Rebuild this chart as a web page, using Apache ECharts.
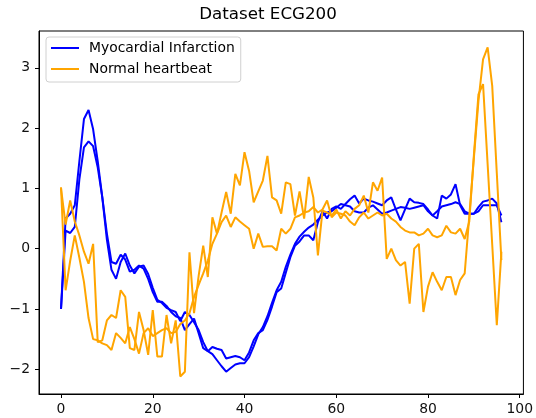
<!DOCTYPE html>
<html>
<head>
<meta charset="utf-8">
<script src="https://cdn.jsdelivr.net/npm/echarts@6/dist/echarts.min.js"></script>
<style>
html,body{margin:0;padding:0;background:#fff;}
#chart{width:536px;height:418px;}
</style>
</head>
<body>
<div id="chart"></div>
<script>
const titleText = 'Dataset ECG200';
const classNames = ['Myocardial Infarction', 'Normal heartbeat'];
const xTicks = [0, 20, 40, 60, 80, 100];
const yTicks = [-2, -1, 0, 1, 2, 3];

const miSample1 = [-1.00,0.50,0.58,0.72,1.45,2.15,2.30,1.98,1.45,0.85,0.25,-0.22,-0.25,-0.10,-0.18,-0.38,-0.35,-0.28,-0.33,-0.50,
-0.72,-0.88,-0.88,-0.95,-1.05,-1.12,-1.15,-1.35,-1.25,-1.16,-1.40,-1.65,-1.70,-1.63,-1.66,-1.68,-1.82,-1.80,-1.78,-1.80,
-1.85,-1.72,-1.52,-1.40,-1.35,-1.18,-0.96,-0.72,-0.66,-0.40,-0.14,0.05,0.12,0.22,0.22,0.14,0.44,0.62,0.50,0.66,
0.70,0.66,0.74,0.82,0.88,0.75,0.83,0.80,0.78,0.75,0.72,0.80,0.85,0.65,0.47,0.65,0.83,0.77,0.76,0.74,
0.65,0.55,0.50,0.88,0.83,0.90,1.07,0.72,0.58,0.58,0.58,0.69,0.78,0.80,0.83,0.75,0.44];

const miSample2 = [-1.00,0.30,0.26,0.36,1.15,1.68,1.78,1.70,1.35,0.85,0.15,-0.35,-0.50,-0.22,-0.08,-0.28,-0.41,-0.30,-0.28,-0.42,
-0.65,-0.85,-0.90,-0.98,-1.02,-1.05,-1.20,-1.05,-1.10,-1.22,-1.35,-1.55,-1.70,-1.75,-1.85,-1.95,-2.04,-1.98,-1.92,-1.90,
-1.90,-1.80,-1.62,-1.42,-1.30,-1.12,-0.90,-0.69,-0.55,-0.30,-0.10,0.08,0.20,0.28,0.35,0.40,0.48,0.55,0.60,0.62,
0.68,0.74,0.72,0.70,0.62,0.60,0.60,0.68,0.72,0.65,0.58,0.60,0.63,0.66,0.69,0.68,0.66,0.68,0.70,0.72,
0.62,0.55,0.62,0.70,0.72,0.74,0.77,0.74,0.62,0.58,0.58,0.62,0.72,0.72,0.72,0.72,0.55];

const normalSample1 = [1.02,-0.69,-0.20,0.22,-0.15,-0.55,-1.15,-1.50,-1.52,-1.57,-1.60,-1.68,-1.40,-1.48,-1.57,-1.30,-1.50,-1.74,-1.40,-1.32,
-1.45,-1.40,-1.35,-1.32,-1.40,-1.38,-1.25,-1.19,-1.07,-0.80,-0.60,-0.41,-0.20,0.08,0.25,0.44,0.55,0.36,0.52,0.45,
0.39,0.33,0.00,0.25,0.03,0.04,0.04,-0.03,0.33,0.25,0.33,0.52,0.55,0.60,0.62,0.69,0.60,0.65,0.80,0.52,
0.60,0.58,0.55,0.45,0.39,0.52,0.60,0.50,0.55,0.60,0.55,0.58,0.50,0.45,0.36,0.30,0.27,0.27,0.22,0.25,
0.33,0.22,0.19,0.22,0.38,0.27,0.25,0.33,0.16,0.45,1.55,2.56,2.73,1.40,0.07,-1.27,-0.05];

const normalSample2 = [1.00,0.40,0.80,0.45,0.22,-0.05,-0.25,0.08,-1.55,-1.52,-1.19,-1.10,-1.15,-0.69,-0.80,-1.65,-1.68,-1.05,-1.35,-1.76,
-1.02,-1.79,-1.79,-1.10,-1.57,-1.19,-2.12,-2.04,-0.06,-1.07,-0.45,0.05,-0.47,0.52,0.25,0.60,0.94,0.58,1.24,1.05,
1.60,1.29,0.77,0.95,1.13,1.54,0.85,0.80,0.58,1.10,1.07,0.55,0.95,0.50,1.19,0.85,-0.11,0.63,0.60,0.55,
0.65,0.50,0.62,0.55,0.66,0.72,0.88,0.60,1.10,0.96,1.18,-0.17,0.00,-0.19,-0.28,-0.22,-0.91,0.00,0.08,-1.05,
-0.63,-0.39,-0.55,-0.69,-0.47,-0.47,-0.77,-0.52,-0.41,0.54,1.50,2.45,3.14,3.34,2.70,1.25,-0.19];

const FONT = 'DejaVu Sans';
const toPairs = arr => arr.map((v, i) => [i, v]);
const fmt = v => (v < 0 ? '\u2212' + Math.abs(v) : String(v));

function lineSeries(name, data, color) {
  return {
    name: name, type: 'line', data: toPairs(data),
    showSymbol: false, symbol: 'none',
    lineStyle: { color: color, width: 2 },
    itemStyle: { color: color },
    animation: false
  };
}

const chart = echarts.init(document.getElementById('chart'), null, { renderer: 'canvas' });
chart.setOption({
  backgroundColor: '#fff',
  animation: false,
  title: {
    text: titleText, left: 'center', top: 6, padding: 0,
    textStyle: { fontFamily: FONT, fontSize: 16.7, fontWeight: 'normal', color: '#000' }
  },
  grid: {
    left: 39, right: 9, top: 31, bottom: 24,
    show: true, borderColor: '#000', borderWidth: 1, backgroundColor: 'transparent'
  },
  legend: {
    data: classNames,
    orient: 'vertical', left: 46, top: 37,
    padding: [3, 6, 5, 5],
    itemWidth: 28, itemHeight: 2, itemGap: 5,
    icon: 'rect',
    borderColor: '#d0d0d0', borderWidth: 1, borderRadius: 3,
    backgroundColor: 'rgba(255,255,255,0.8)',
    textStyle: { fontFamily: FONT, fontSize: 13.9, color: '#000', lineHeight: 16, padding: [0, 0, 0, 5] }
  },
  xAxis: {
    type: 'value', min: -4.8, max: 100.8,
    axisLine: { show: true, onZero: false, lineStyle: { color: '#000', width: 1 } },
    axisTick: { show: true, inside: false, length: 4, customValues: xTicks, lineStyle: { color: '#000' } },
    axisLabel: { customValues: xTicks, margin: 8, fontFamily: FONT, fontSize: 13.9, color: '#111', formatter: fmt },
    splitLine: { show: false }
  },
  yAxis: {
    type: 'value', min: -2.41, max: 3.61,
    axisLine: { show: true, onZero: false, lineStyle: { color: '#000', width: 1 } },
    axisTick: { show: true, inside: false, length: 4, customValues: yTicks, lineStyle: { color: '#000' } },
    axisLabel: { customValues: yTicks, margin: 9, fontFamily: FONT, fontSize: 13.9, color: '#111', formatter: fmt },
    splitLine: { show: false }
  },
  series: [
    lineSeries(classNames[0], miSample1, '#0000ff'),
    lineSeries(classNames[0], miSample2, '#0000ff'),
    lineSeries(classNames[1], normalSample1, '#ffa500'),
    lineSeries(classNames[1], normalSample2, '#ffa500')
  ]
});
</script>
</body>
</html>
